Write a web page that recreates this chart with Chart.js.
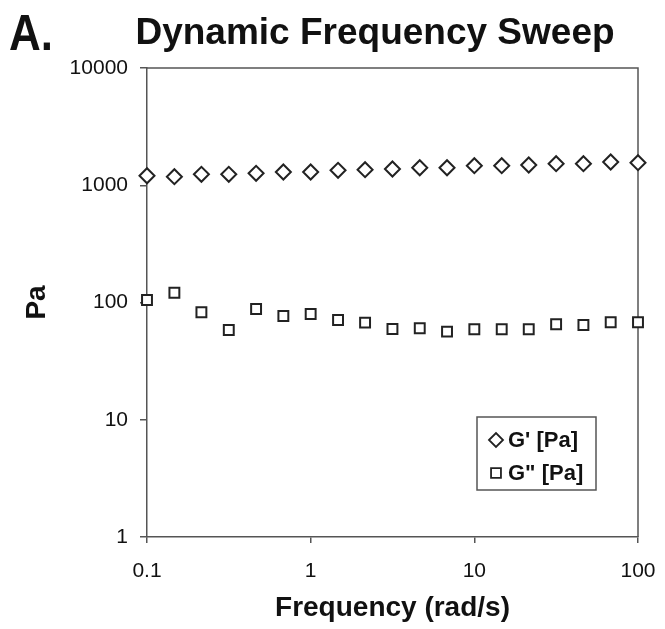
<!DOCTYPE html>
<html>
<head>
<meta charset="utf-8">
<title>Dynamic Frequency Sweep</title>
<script src="https://cdn.jsdelivr.net/npm/chart.js@4"></script>
<style>
  html, body { margin: 0; padding: 0; background: #fff; }
  #wrap { width: 665px; height: 629px; }
</style>
</head>
<body>
<div id="wrap"><canvas id="sweep-chart" width="665" height="629"></canvas></div>
<script>
// frequency sweep, 6 points per decade
const frequencies = [0.1, 0.147, 0.215, 0.316, 0.464, 0.681, 1, 1.47, 2.15, 3.16, 4.64, 6.81, 10, 14.7, 21.5, 31.6, 46.4, 68.1, 100];
const storageModulus = [1206, 1183, 1240, 1240, 1264, 1297, 1297, 1341, 1357, 1376, 1411, 1411, 1468, 1468, 1488, 1527, 1527, 1579, 1557];
const lossModulus = [105, 121, 82.5, 58.3, 88, 76.7, 79.8, 70.9, 67.3, 59.4, 60.3, 56.4, 59.1, 59.1, 59.1, 65.2, 64.3, 67.8, 67.8];
const seriesLabels = ["G' [Pa]", 'G" [Pa]'];
const xTicks = [0.1, 1, 10, 100];
const yTicks = [1, 10, 100, 1000, 10000];

const FONT = "'Liberation Sans', Arial, Helvetica, sans-serif";
const INK = '#111';
const LINE = '#555';

Chart.defaults.font.family = FONT;
Chart.defaults.color = INK;

function toPoints(values) {
    return frequencies.map((f, i) => ({ x: f, y: values[i] }));
}

const sweepDecor = {
    id: 'sweepDecor',
    beforeDatasetsDraw(chart) {
        const { ctx, chartArea: a } = chart;
        ctx.save();
        ctx.strokeStyle = LINE;
        ctx.lineWidth = 1.5;
        ctx.beginPath();
        ctx.moveTo(a.left, a.top);
        ctx.lineTo(a.right, a.top);
        ctx.lineTo(a.right, a.bottom);
        ctx.stroke();
        ctx.restore();
    },
    afterDraw(chart) {
        const { ctx } = chart;
        ctx.save();
        ctx.fillStyle = INK;

        // panel letter
        ctx.save();
        ctx.font = 'bold 44px ' + FONT;
        ctx.textAlign = 'left';
        ctx.textBaseline = 'alphabetic';
        ctx.translate(9, 50);
        ctx.scale(1, 1.14);
        ctx.fillText('A.', 0, 0);
        ctx.restore();

        // chart title
        ctx.font = 'bold 37px ' + FONT;
        ctx.textAlign = 'center';
        ctx.textBaseline = 'alphabetic';
        ctx.fillText('Dynamic Frequency Sweep', 375, 44);

        // legend box
        ctx.strokeStyle = LINE;
        ctx.lineWidth = 1.5;
        ctx.strokeRect(477, 417, 119, 73);

        const rows = [440, 473];
        ctx.font = 'bold 22px ' + FONT;
        ctx.textAlign = 'left';
        ctx.textBaseline = 'middle';
        chart.data.datasets.forEach((ds, i) => {
            ctx.strokeStyle = ds.borderColor;
            ctx.fillStyle = '#fff';
            ctx.lineWidth = 1.8;
            Chart.helpers.drawPoint(ctx, {
                pointStyle: ds.pointStyle,
                radius: 7,
                rotation: 0,
                borderWidth: 1.8
            }, 496, rows[i]);
            ctx.fillStyle = INK;
            ctx.fillText(ds.label, 508, rows[i] + 1);
        });
        ctx.restore();
    }
};

const ctx = document.getElementById('sweep-chart').getContext('2d');
new Chart(ctx, {
    type: 'scatter',
    data: {
        datasets: [
            {
                label: seriesLabels[0],
                data: toPoints(storageModulus),
                pointStyle: 'rectRot',
                pointRadius: 7.5,
                pointHoverRadius: 7.5,
                borderWidth: 2,
                borderColor: '#222',
                backgroundColor: '#fff',
                clip: false
            },
            {
                label: seriesLabels[1],
                data: toPoints(lossModulus),
                pointStyle: 'rect',
                pointRadius: 7,
                pointHoverRadius: 7,
                borderWidth: 2,
                borderColor: '#222',
                backgroundColor: '#fff',
                clip: false
            }
        ]
    },
    options: {
        responsive: false,
        animation: false,
        layout: { padding: { top: 68, right: 27, left: 0, bottom: 0 } },
        plugins: {
            legend: { display: false },
            title: { display: false },
            tooltip: { enabled: false }
        },
        scales: {
            x: {
                type: 'logarithmic',
                min: 0.1,
                max: 100,
                afterBuildTicks: scale => { scale.ticks = xTicks.map(v => ({ value: v })); },
                afterFit: scale => {
                    scale.height = 92;
                    scale.paddingLeft = 0;
                    scale.paddingRight = 0;
                },
                ticks: {
                    autoSkip: false,
                    maxRotation: 0,
                    padding: 16,
                    font: { size: 21 },
                    color: INK,
                    callback: v => String(v)
                },
                grid: { drawOnChartArea: false, drawTicks: true, tickLength: 6, color: LINE, lineWidth: 1.5 },
                border: { display: true, color: LINE, width: 1.5 },
                title: {
                    display: true,
                    text: 'Frequency (rad/s)',
                    font: { size: 28, weight: 'bold' },
                    color: INK,
                    padding: { top: 0, bottom: 4 }
                }
            },
            y: {
                type: 'logarithmic',
                min: 1,
                max: 10000,
                afterBuildTicks: scale => { scale.ticks = yTicks.map(v => ({ value: v })); },
                afterFit: scale => { scale.width = 147; },
                ticks: {
                    autoSkip: false,
                    padding: 12,
                    font: { size: 21 },
                    color: INK,
                    callback: v => String(v)
                },
                grid: { drawOnChartArea: false, drawTicks: true, tickLength: 7, color: LINE, lineWidth: 1.5 },
                border: { display: true, color: LINE, width: 1.5 },
                title: {
                    display: true,
                    text: 'Pa',
                    font: { size: 28, weight: 'bold' },
                    color: INK,
                    padding: { top: 20, bottom: 0 }
                }
            }
        }
    },
    plugins: [sweepDecor]
});
</script>
</body>
</html>
